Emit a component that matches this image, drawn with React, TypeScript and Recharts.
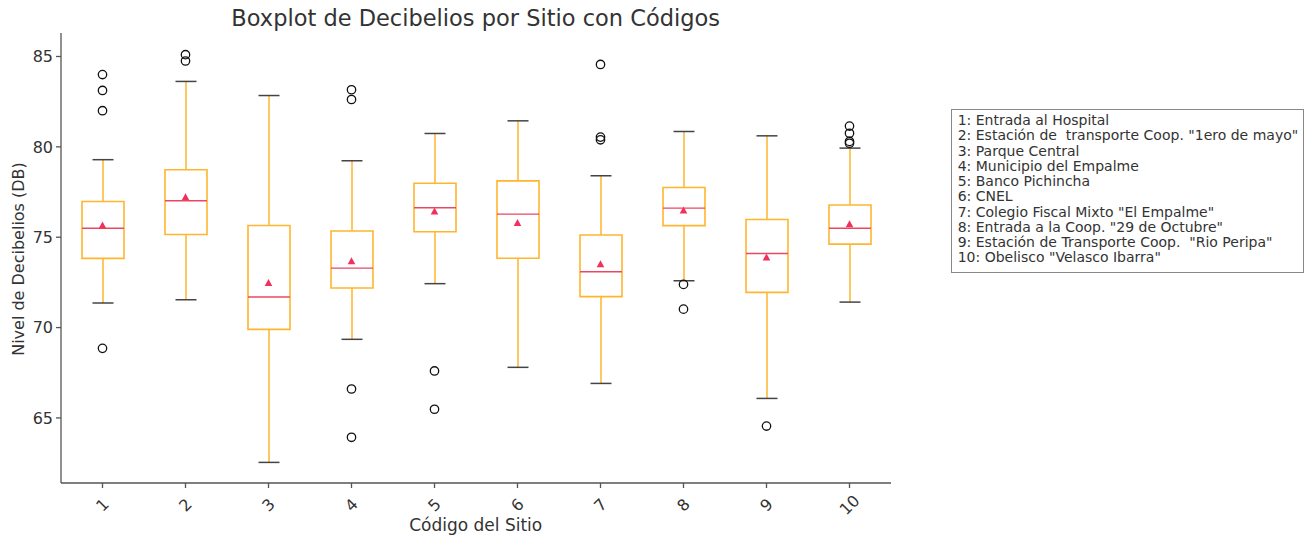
import React from "react"
import { ComposedChart, Bar, Scatter, XAxis, YAxis } from "recharts"

const SITES = ["1", "2", "3", "4", "5", "6", "7", "8", "9", "10"]
const WHISKER_LOW = [71.36, 71.54, 62.54, 69.35, 72.43, 67.8, 66.91, 72.59, 66.08, 71.41]
const Q1 = [73.83, 75.15, 69.9, 72.19, 75.3, 73.84, 71.71, 75.64, 71.95, 74.62]
const MEDIAN = [75.5, 77.02, 71.69, 73.29, 76.63, 76.28, 73.09, 76.61, 74.1, 75.5]
const Q3 = [76.98, 78.73, 75.65, 75.34, 77.99, 78.12, 75.12, 77.75, 75.98, 76.78]
const WHISKER_HIGH = [79.29, 83.62, 82.84, 79.23, 80.74, 81.44, 78.4, 80.85, 80.61, 79.93]
const MEAN = [75.64, 77.2, 72.46, 73.66, 76.41, 75.78, 73.5, 76.47, 73.87, 75.71]
const OUTLIERS = [
  [84.0, 83.12, 82.0, 68.85],
  [85.1, 84.75],
  [],
  [83.16, 82.62, 66.6, 63.93],
  [67.6, 65.48],
  [],
  [84.56, 80.54, 80.39],
  [72.39, 71.02],
  [64.55],
  [81.15, 80.75, 80.3, 80.2],
]
const Y_TICKS = [65, 70, 75, 80, 85]
const LEGEND = [
  "1: Entrada al Hospital",
  "2: Estación de  transporte Coop. \"1ero de mayo\"",
  "3: Parque Central",
  "4: Municipio del Empalme",
  "5: Banco Pichincha",
  "6: CNEL",
  "7: Colegio Fiscal Mixto \"El Empalme\"",
  "8: Entrada a la Coop. \"29 de Octubre\"",
  "9: Estación de Transporte Coop.  \"Rio Peripa\"",
  "10: Obelisco \"Velasco Ibarra\"",
]

const FONT = "'DejaVu Sans', sans-serif"
const BOX = "#ffb52e"
const MED = "#ea4862"
const MEAN_C = "#f2305c"
const CAP = "#444"
const TEXT = "#333"

const data = SITES.map((site, i) => {
  const row: Record<string, any> = {
    site,
    base: WHISKER_LOW[i],
    lowW: Q1[i] - WHISKER_LOW[i],
    boxLo: MEDIAN[i] - Q1[i],
    boxHi: Q3[i] - MEDIAN[i],
    highW: WHISKER_HIGH[i] - Q3[i],
    mean: MEAN[i],
  }
  for (let k = 0; k < 4; k++) row["o" + k] = OUTLIERS[i][k] ?? null
  return row
})

const LowWhisker = (p: any) => {
  const cx = p.x + p.width / 2
  const capW = p.width / 4
  return (
    <g>
      <line x1={cx} x2={cx} y1={p.y} y2={p.y + p.height} stroke={BOX} strokeWidth={1.5} />
      <line x1={cx - capW} x2={cx + capW} y1={p.y + p.height} y2={p.y + p.height} stroke={CAP} strokeWidth={1.5} />
    </g>
  )
}

const HighWhisker = (p: any) => {
  const cx = p.x + p.width / 2
  const capW = p.width / 4
  return (
    <g>
      <line x1={cx} x2={cx} y1={p.y} y2={p.y + p.height} stroke={BOX} strokeWidth={1.5} />
      <line x1={cx - capW} x2={cx + capW} y1={p.y} y2={p.y} stroke={CAP} strokeWidth={1.5} />
    </g>
  )
}

const BoxLow = (p: any) => {
  const { x, y, width: w, height: h } = p
  return <path d={`M${x},${y} L${x},${y + h} L${x + w},${y + h} L${x + w},${y}`} fill="none" stroke={BOX} strokeWidth={1.6} />
}

const BoxHigh = (p: any) => {
  const { x, y, width: w, height: h } = p
  return (
    <g>
      <path d={`M${x},${y + h} L${x},${y} L${x + w},${y} L${x + w},${y + h}`} fill="none" stroke={BOX} strokeWidth={1.6} />
      <line x1={x} x2={x + w} y1={y + h} y2={y + h} stroke={MED} strokeWidth={1.4} />
    </g>
  )
}

const MeanMark = (p: any) => {
  const { cx, cy } = p
  if (cx == null || cy == null || isNaN(cy)) return <g />
  return <path d={`M${cx},${cy - 4.2} L${cx + 3.8},${cy + 2.8} L${cx - 3.8},${cy + 2.8} Z`} fill={MEAN_C} />
}

const outlierShape = (key: string) => (p: any) => {
  const { cx, cy, payload } = p
  if (!payload || payload[key] == null || cy == null || isNaN(cy)) return <g />
  return <circle cx={cx} cy={cy} r={4.2} fill="none" stroke="#111" strokeWidth={1.3} />
}

const XTick = (p: any) => {
  const { x, y, payload } = p
  const cy = y + 15
  return (
    <text x={x} y={cy} transform={`rotate(-45, ${x}, ${cy})`} textAnchor="middle" dominantBaseline="central"
      fontSize={16} fill={TEXT} fontFamily={FONT}>
      {payload.value}
    </text>
  )
}

export default function App() {
  return (
    <div style={{ position: "absolute", left: 0, top: 0, width: 1310, height: 535, background: "#fff" }}>
      <ComposedChart width={1310} height={535} data={data} margin={{ top: 33, right: 419, bottom: 0, left: 11 }}
        barCategoryGap={0} barGap={0}>
        <XAxis dataKey="site" height={52} tick={<XTick />} tickSize={5} stroke="#555" strokeWidth={1.3}
          tickLine={{ stroke: "#555" }} interval={0} />
        <YAxis type="number" domain={[61.4, 86.3]} allowDataOverflow ticks={Y_TICKS} width={50} tickSize={5}
          tickMargin={3} stroke="#555" strokeWidth={1.3} tick={{ fontSize: 16, fill: TEXT, fontFamily: FONT }} />
        <Bar dataKey="base" stackId="a" barSize={42} fill="none" isAnimationActive={false} />
        <Bar dataKey="lowW" stackId="a" barSize={42} shape={<LowWhisker />} isAnimationActive={false} />
        <Bar dataKey="boxLo" stackId="a" barSize={42} shape={<BoxLow />} isAnimationActive={false} />
        <Bar dataKey="boxHi" stackId="a" barSize={42} shape={<BoxHigh />} isAnimationActive={false} />
        <Bar dataKey="highW" stackId="a" barSize={42} shape={<HighWhisker />} isAnimationActive={false} />
        <Scatter dataKey="mean" shape={<MeanMark />} isAnimationActive={false} />
        {["o0", "o1", "o2", "o3"].map(k => (
          <Scatter key={k} dataKey={k} shape={outlierShape(k)} isAnimationActive={false} />
        ))}
      </ComposedChart>
      <svg width={1310} height={535} style={{ position: "absolute", left: 0, top: 0, pointerEvents: "none" }}
        fontFamily={FONT}>
        <text x={475.7} y={26} textAnchor="middle" fontSize={22.5} fill={TEXT}>
          Boxplot de Decibelios por Sitio con Códigos
        </text>
        <text x={475.7} y={531} textAnchor="middle" fontSize={17} fill={TEXT}>Código del Sitio</text>
        <text transform="translate(24,259) rotate(-90)" textAnchor="middle" fontSize={16} fill={TEXT}>
          Nivel de Decibelios (DB)
        </text>
        <rect x={951.5} y={109.5} width={352} height={163} fill="#fff" stroke="#888" strokeWidth={1} />
        {LEGEND.map((l, i) => (
          <text key={i} x={957.7} y={125 + i * 15.26} fontSize={14} fill={TEXT} style={{ whiteSpace: "pre" }}>
            {l}
          </text>
        ))}
      </svg>
    </div>
  )
}
